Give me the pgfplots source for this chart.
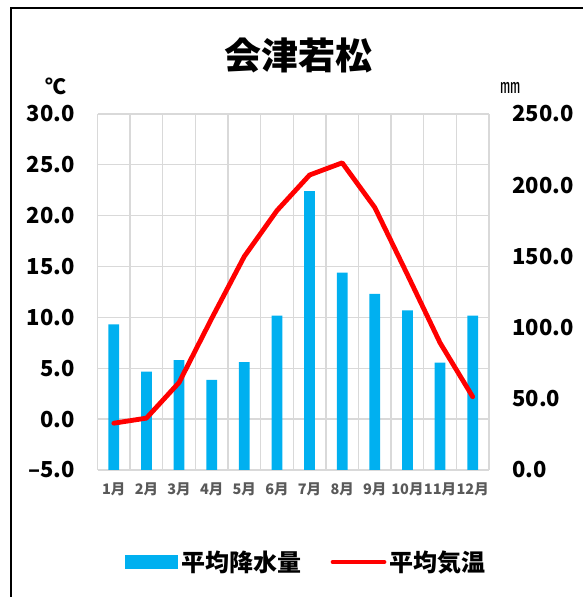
\documentclass[border=0pt]{standalone}
\usepackage{pgfplots}
\pgfplotsset{compat=1.18}
\usepackage{pgfplotstable}
\usepackage{fontspec}
\setmainfont{Noto Sans CJK JP}

\definecolor{barblue}{HTML}{00B0F0}
\definecolor{gridgray}{HTML}{D9D9D9}
\definecolor{labgray}{HTML}{595959}

% month, precipitation (mm), mean temperature (C)
\pgfplotstableread{
m  prec   temp
1  102.3  -0.4
2  69.0   0.1
3  77.2   3.6
4  63.2   9.9
5  75.8   16.0
6  108.4  20.5
7  195.9  24.0
8  138.6  25.2
9  123.6  20.8
10 112.1  14.2
11 75.4   7.5
12 108.4  2.2
}\climate

\pgfplotsset{
  base/.style={
    scale only axis, width=391.5bp, height=356bp,
    at={(97.5bp,127bp)}, anchor=south west,
    xmin=0.5, xmax=12.5,
    major tick length=0pt, minor tick length=0pt,
    axis line style={draw=none},
    tick label style={font=\bfseries\fontsize{22bp}{24bp}\selectfont},
  },
}

\begin{document}
\begin{tikzpicture}[x=1bp,y=1bp]
\path[use as bounding box] (0,0) rectangle (583,597);

% precipitation (right axis) with the grid behind the bars
\begin{axis}[base,
  ymin=0, ymax=250,
  axis y line*=right, axis x line*=bottom,
  ytick={0,50,...,250},
  yticklabels={0.0,50.0,100.0,150.0,200.0,250.0},
  yticklabel style={anchor=west, inner sep=0pt, xshift=23bp},
  xtick={1,...,12},
  xticklabels={1月,2月,3月,4月,5月,6月,7月,8月,9月,10月,11月,12月},
  xticklabel style={anchor=north, inner sep=0pt, yshift=-13bp,
    font=\bfseries\fontsize{14.5bp}{17bp}\selectfont, text=labgray},
  minor xtick={0.5,1.5,...,12.5},
  minor ytick={0,35.714,71.429,107.143,142.857,178.571,214.286,250},
  minor grid style={gridgray, line width=1.3bp},
  xminorgrids, yminorgrids,
]
\addplot[ybar, bar width=10.7bp, fill=barblue, draw=none] table[x=m, y=prec] {\climate};
\end{axis}

% temperature (left axis)
\begin{axis}[base,
  ymin=-5, ymax=30,
  axis y line*=left, axis x line=none,
  ytick={-5,0,...,30},
  yticklabels={–5.0,0.0,5.0,10.0,15.0,20.0,25.0,30.0},
  yticklabel style={anchor=east, inner sep=0pt, xshift=-22.5bp},
  xtick=\empty,
  legend columns=2,
  legend style={at={(0.536,-0.2584)}, anchor=center, draw=none, fill=none,
    font=\bfseries\fontsize{24bp}{26bp}\selectfont,
    nodes={inner xsep=3.5bp, inner ysep=0pt},
    /tikz/every even column/.append style={column sep=26bp}},
]
\addlegendimage{legend image code/.code={\fill[barblue] (0bp,-6.5bp) rectangle (52bp,6.5bp);}}
\addlegendentry{平均降水量}
\addplot[red, line width=4.8bp, line join=round, line cap=round,
  legend image code/.code={\draw[red, line width=4.8bp, line cap=round] (2bp,0bp) -- (53bp,0bp);}]
  table[x=m, y=temp] {\climate};
\addlegendentry{平均気温}
\end{axis}

\node[font=\bfseries\fontsize{37bp}{40bp}\selectfont] at (298,542) {会津若松};
\node[font=\bfseries\fontsize{21bp}{23bp}\selectfont] at (56,510.5) {℃};
\node[font=\fontsize{20bp}{22bp}\selectfont] at (510,509) {㎜};
\draw[line width=2bp] (11,0) -- (11,589) -- (583,589);
\end{tikzpicture}
\end{document}
